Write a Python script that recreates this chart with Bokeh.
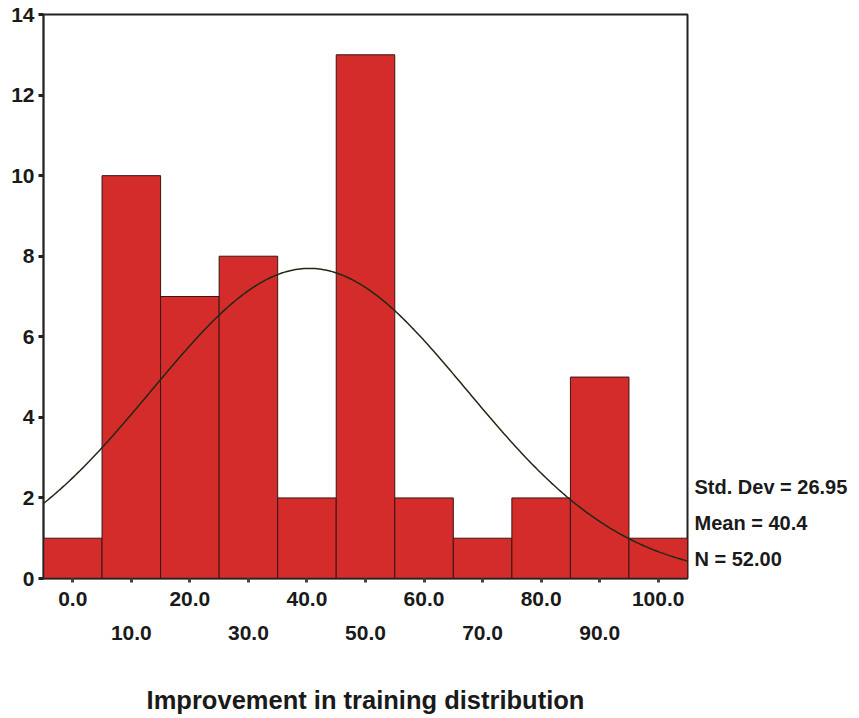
import numpy as np
from bokeh.plotting import figure
from bokeh.models import FixedTicker, LinearAxis, Range1d
from bokeh.embed import file_html
from bokeh.resources import INLINE

# ---- data ----
bin_centers = [0, 10, 20, 30, 40, 50, 60, 70, 80, 90, 100]
counts = [1, 10, 7, 8, 2, 13, 2, 1, 2, 5, 1]
bin_width = 10
std_dev = 26.95
mean = 40.4
n_total = 52
y_ticks = [0, 2, 4, 6, 8, 10, 12, 14]
x_ticks_row1 = [0, 20, 40, 60, 80, 100]
x_ticks_row2 = [10, 30, 50, 70, 90]
x_title = "Improvement in training distribution"

FONT = "Liberation Sans"
TXT = "#1a1a1a"

p = figure(
    frame_width=644, frame_height=564,
    min_border_left=43, min_border_top=14, min_border_right=172, min_border_bottom=140,
    x_range=Range1d(-5, 105), y_range=Range1d(0, 14),
    output_backend="svg", toolbar_location=None, tools="",
    x_axis_location=None,
)
p.background_fill_color = "white"
p.border_fill_color = "white"
p.xgrid.visible = False
p.ygrid.visible = False
p.outline_line_color = "#222222"
p.outline_line_width = 2

# bars
p.vbar(x=bin_centers, width=bin_width, top=counts, bottom=0,
       fill_color="#d42b2b", line_color="#3a1616", line_width=1)

# fitted normal curve from the stated statistics
xs = np.linspace(min(bin_centers) - bin_width / 2, max(bin_centers) + bin_width / 2, 300)
ys = n_total * bin_width / (std_dev * np.sqrt(2 * np.pi)) * np.exp(-0.5 * ((xs - mean) / std_dev) ** 2)
p.line(xs, ys, line_color="#1f2a14", line_width=1.5)

# y axis
ya = p.yaxis[0]
ya.ticker = FixedTicker(ticks=y_ticks)
ya.minor_tick_line_color = None
ya.major_tick_out = 5
ya.major_tick_in = 0
ya.major_tick_line_width = 3
ya.major_tick_line_color = "#222222"
ya.axis_line_color = "#222222"
ya.axis_line_width = 1.5
ya.major_label_text_font = FONT
ya.major_label_text_font_size = "21px"
ya.major_label_text_font_style = "bold"
ya.major_label_text_color = TXT
ya.major_label_standoff = 4

all_ticks = sorted(x_ticks_row1 + x_ticks_row2)

# x axis row 1
xa1 = LinearAxis(ticker=FixedTicker(ticks=all_ticks))
xa1.major_label_overrides = {t: ("" if t in x_ticks_row2 else f"{t:.1f}") for t in all_ticks}
xa1.minor_tick_line_color = None
xa1.major_tick_out = 4
xa1.major_tick_in = 0
xa1.major_tick_line_width = 3
xa1.major_tick_line_color = "#444444"
xa1.axis_line_color = "#222222"
xa1.axis_line_width = 1.5
xa1.major_label_text_font = FONT
xa1.major_label_text_font_size = "21px"
xa1.major_label_text_font_style = "bold"
xa1.major_label_text_color = TXT
xa1.major_label_standoff = 9
p.add_layout(xa1, "below")

# x axis row 2
xa2 = LinearAxis(ticker=FixedTicker(ticks=x_ticks_row2))
xa2.major_label_overrides = {t: f"{t:.1f}" for t in x_ticks_row2}
xa2.minor_tick_line_color = None
xa2.major_tick_line_color = None
xa2.major_tick_out = 0
xa2.major_tick_in = 0
xa2.axis_line_color = None
xa2.major_label_text_font = FONT
xa2.major_label_text_font_size = "21px"
xa2.major_label_text_font_style = "bold"
xa2.major_label_text_color = TXT
xa2.major_label_standoff = 17
xa2.axis_label = x_title
xa2.axis_label_text_font = FONT
xa2.axis_label_text_font_size = "25.5px"
xa2.axis_label_text_font_style = "bold"
xa2.axis_label_text_color = TXT
xa2.axis_label_standoff = 43
p.add_layout(xa2, "below")

# stats text on the right side
stats = [f"Std. Dev = {std_dev:.2f}", f"Mean = {mean:.1f}", f"N = {n_total:.2f}"]
stat_y = [2.26, 1.37, 0.48]
ra = LinearAxis(ticker=FixedTicker(ticks=stat_y))
ra.major_label_overrides = {yv: s for yv, s in zip(stat_y, stats)}
ra.axis_line_color = None
ra.major_tick_line_color = None
ra.minor_tick_line_color = None
ra.major_tick_out = 0
ra.major_tick_in = 0
ra.major_label_standoff = 7
ra.major_label_text_font = FONT
ra.major_label_text_font_size = "20px"
ra.major_label_text_font_style = "bold"
ra.major_label_text_color = TXT
p.add_layout(ra, "right")

open("out.html", "w").write(file_html(p, INLINE))
